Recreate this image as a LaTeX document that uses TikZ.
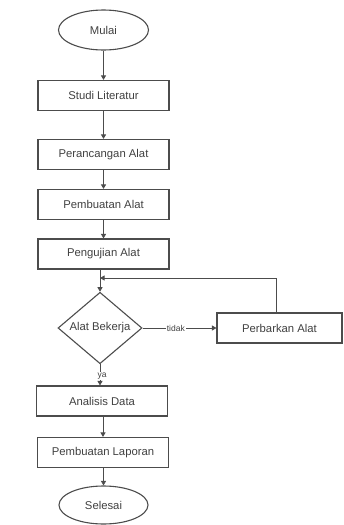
\documentclass[tikz,border=0pt]{standalone}
\usepackage{fontspec}
\setmainfont{Liberation Sans}
\usetikzlibrary{shapes.geometric,arrows.meta}
\definecolor{edge}{gray}{0.30}
\definecolor{ink}{gray}{0.25}
\tikzset{
  base/.style={draw=edge, line width=1.1pt, text=ink, font=\fontsize{11.3}{13}\selectfont, inner sep=0pt},
  procbox/.style={base, rectangle, minimum width=131pt, minimum height=30pt},
  term/.style={base, ellipse, minimum width=90pt, minimum height=40pt},
  decide/.style={base, diamond, minimum width=84pt, minimum height=58pt},
  flow/.style={draw=edge, line width=0.8pt, -{Triangle[width=5pt,length=4.5pt]}},
  tag/.style={fill=white, text=ink, font=\fontsize{8.5}{10}\selectfont, inner sep=0.8pt}
}
\begin{document}
\begin{tikzpicture}[x=1pt, y=-1pt]
  \useasboundingbox (0,0) rectangle (343,525);

  \node[term]    (start) at (103.5,30)    {Mulai};
  \node[procbox] (lit)   at (103.5,95.5)  {Studi Literatur};
  \node[procbox] (des)   at (103.5,154.5) {Perancangan Alat};
  \node[procbox] (mak)   at (103.5,204.5) {Pembuatan Alat};
  \node[procbox] (test)  at (103.5,254)   {Pengujian Alat};
  \node[decide]  (work)  at (100,328)     {Alat Bekerja};
  \node[procbox, minimum width=125pt] (fix) at (279.5,328) {Perbarkan Alat};
  \node[procbox] (ana)   at (102,401)     {Analisis Data};
  \node[procbox] (rep)   at (103,452.5)   {Pembuatan Laporan};
  \node[term, minimum width=89pt, minimum height=38pt] (end) at (103.5,505) {Selesai};

  \coordinate (loopR) at (276,278);
  \coordinate (loopL) at (100,278);

  \draw[flow] (start) -- (lit);
  \draw[flow] (lit) -- (des);
  \draw[flow] (des) -- (mak);
  \draw[flow] (mak) -- (test);
  \draw[flow] (test.south -| work.north) -- (work.north);
  \draw[flow] (work.east) -- node[tag, pos=0.45] {tidak} (fix.west);
  \draw[draw=edge, line width=0.8pt] (fix.north -| loopR) -- (loopR);
  \draw[flow] (loopR) -- (loopL);
  \draw[flow] (work.south) -- node[tag, pos=0.55, xshift=2pt] {ya} (work.south |- ana.north);
  \draw[flow] (ana.south -| rep.north) -- (rep.north);
  \draw[flow] (rep.south -| end.north) -- (end.north);
\end{tikzpicture}
\end{document}
